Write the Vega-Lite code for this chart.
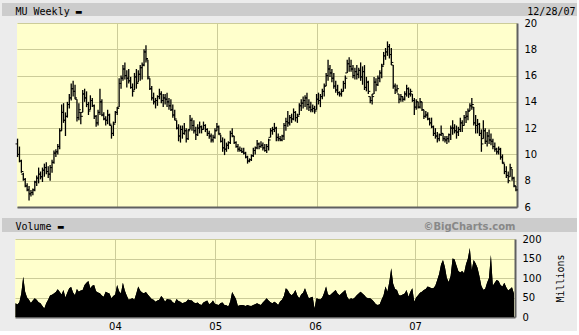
{
"$schema": "https://vega.github.io/schema/vega-lite/v6.json",
"background": "#ECECEC",
"padding": {"left": 2, "top": 3, "right": 0, "bottom": 0},
"spacing": 0,
"config": {
 "view": {"stroke": null},
 "axis": {"labelFont": "DejaVu Sans", "labelFontSize": 10, "labelColor": "#000000", "titleFont": "DejaVu Sans Mono", "titleFontSize": 10, "titleFontWeight": "normal", "titleColor": "#000000", "gridColor": "#CCCC99", "gridOpacity": 1, "gridWidth": 1, "domainColor": "#606060", "domainWidth": 2, "ticks": false}
},
"datasets": {"px": [
{"d":"2003-01-03","o":10.8,"h":11.2,"l":9.8,"c":10.0,"v":35},
{"d":"2003-01-10","o":10.0,"h":10.6,"l":9.4,"c":9.5,"v":32},
{"d":"2003-01-17","o":9.5,"h":9.6,"l":8.6,"c":8.7,"v":38},
{"d":"2003-01-24","o":8.5,"h":8.6,"l":8.0,"c":8.1,"v":60},
{"d":"2003-01-31","o":8.1,"h":8.2,"l":7.5,"c":7.6,"v":103},
{"d":"2003-02-07","o":7.6,"h":7.8,"l":7.2,"c":7.3,"v":65},
{"d":"2003-02-14","o":7.3,"h":7.6,"l":6.5,"c":7.0,"v":50},
{"d":"2003-02-21","o":7.0,"h":7.3,"l":6.8,"c":7.1,"v":44},
{"d":"2003-02-28","o":7.1,"h":7.4,"l":6.9,"c":7.3,"v":36},
{"d":"2003-03-07","o":7.3,"h":8.0,"l":7.2,"c":7.9,"v":42},
{"d":"2003-03-14","o":7.9,"h":8.4,"l":7.6,"c":8.2,"v":48},
{"d":"2003-03-21","o":8.2,"h":9.0,"l":7.8,"c":8.5,"v":44},
{"d":"2003-03-28","o":8.5,"h":8.7,"l":8.1,"c":8.3,"v":38},
{"d":"2003-04-04","o":8.3,"h":9.0,"l":7.9,"c":8.8,"v":35},
{"d":"2003-04-11","o":8.8,"h":9.3,"l":8.3,"c":9.0,"v":28},
{"d":"2003-04-18","o":9.0,"h":9.4,"l":8.5,"c":8.7,"v":22},
{"d":"2003-04-25","o":8.7,"h":9.1,"l":8.2,"c":8.5,"v":35},
{"d":"2003-05-02","o":8.5,"h":9.2,"l":8.0,"c":9.0,"v":44},
{"d":"2003-05-09","o":9.0,"h":9.6,"l":8.6,"c":9.4,"v":55},
{"d":"2003-05-16","o":9.4,"h":10.3,"l":9.3,"c":10.1,"v":57},
{"d":"2003-05-23","o":10.1,"h":10.4,"l":9.8,"c":10.2,"v":60},
{"d":"2003-05-30","o":10.2,"h":10.8,"l":10.0,"c":10.6,"v":64},
{"d":"2003-06-06","o":10.6,"h":12.0,"l":10.4,"c":11.8,"v":71},
{"d":"2003-06-13","o":11.8,"h":13.8,"l":11.8,"c":13.2,"v":65},
{"d":"2003-06-20","o":13.2,"h":13.9,"l":12.4,"c":12.6,"v":58},
{"d":"2003-06-27","o":12.6,"h":13.2,"l":11.4,"c":12.9,"v":69},
{"d":"2003-07-04","o":12.9,"h":14.0,"l":12.8,"c":13.8,"v":50},
{"d":"2003-07-11","o":13.8,"h":14.6,"l":13.5,"c":14.3,"v":62},
{"d":"2003-07-18","o":14.3,"h":15.4,"l":14.1,"c":15.0,"v":74},
{"d":"2003-07-25","o":15.0,"h":15.6,"l":14.4,"c":14.8,"v":77},
{"d":"2003-08-01","o":14.8,"h":15.3,"l":14.2,"c":14.3,"v":63},
{"d":"2003-08-08","o":14.2,"h":14.2,"l":12.5,"c":12.8,"v":56},
{"d":"2003-08-15","o":12.8,"h":13.9,"l":12.6,"c":13.4,"v":72},
{"d":"2003-08-22","o":13.2,"h":13.2,"l":12.3,"c":12.9,"v":65},
{"d":"2003-08-29","o":13.2,"h":14.9,"l":13.2,"c":14.6,"v":68},
{"d":"2003-09-05","o":14.6,"h":15.0,"l":14.0,"c":14.3,"v":69},
{"d":"2003-09-12","o":14.3,"h":14.8,"l":13.6,"c":13.8,"v":82},
{"d":"2003-09-19","o":13.8,"h":14.0,"l":13.0,"c":13.3,"v":88},
{"d":"2003-09-26","o":13.4,"h":14.5,"l":13.4,"c":14.1,"v":92},
{"d":"2003-10-03","o":14.1,"h":14.3,"l":13.6,"c":13.7,"v":74},
{"d":"2003-10-10","o":13.7,"h":13.8,"l":12.7,"c":12.9,"v":80},
{"d":"2003-10-17","o":12.9,"h":13.0,"l":12.1,"c":12.4,"v":82},
{"d":"2003-10-24","o":12.4,"h":13.4,"l":12.2,"c":13.2,"v":66},
{"d":"2003-10-31","o":13.2,"h":15.0,"l":13.0,"c":14.0,"v":63},
{"d":"2003-11-07","o":14.0,"h":14.2,"l":12.9,"c":13.0,"v":61},
{"d":"2003-11-14","o":13.0,"h":13.2,"l":12.6,"c":12.7,"v":55},
{"d":"2003-11-21","o":12.7,"h":12.9,"l":12.2,"c":12.6,"v":52},
{"d":"2003-11-28","o":12.6,"h":13.4,"l":12.3,"c":13.0,"v":65},
{"d":"2003-12-05","o":13.0,"h":13.1,"l":12.2,"c":12.3,"v":62},
{"d":"2003-12-12","o":12.2,"h":12.2,"l":11.2,"c":11.6,"v":60},
{"d":"2003-12-19","o":11.6,"h":12.5,"l":11.4,"c":12.3,"v":48},
{"d":"2003-12-26","o":12.4,"h":13.3,"l":12.4,"c":13.2,"v":54},
{"d":"2004-01-02","o":13.2,"h":13.6,"l":13.0,"c":13.5,"v":58},
{"d":"2004-01-09","o":13.6,"h":15.8,"l":13.6,"c":15.4,"v":82},
{"d":"2004-01-16","o":15.4,"h":16.0,"l":15.0,"c":15.8,"v":66},
{"d":"2004-01-23","o":15.8,"h":16.8,"l":15.6,"c":16.5,"v":60},
{"d":"2004-01-30","o":16.5,"h":17.0,"l":15.7,"c":16.0,"v":88},
{"d":"2004-02-06","o":16.0,"h":16.4,"l":15.1,"c":15.8,"v":68},
{"d":"2004-02-13","o":15.8,"h":16.5,"l":15.4,"c":15.6,"v":55},
{"d":"2004-02-20","o":15.6,"h":15.9,"l":15.0,"c":15.1,"v":44},
{"d":"2004-02-27","o":15.1,"h":15.4,"l":14.4,"c":14.8,"v":46},
{"d":"2004-03-05","o":14.9,"h":16.2,"l":14.9,"c":15.9,"v":48},
{"d":"2004-03-12","o":15.9,"h":16.5,"l":15.0,"c":15.4,"v":44},
{"d":"2004-03-19","o":15.5,"h":16.4,"l":15.5,"c":16.1,"v":60},
{"d":"2004-03-26","o":16.1,"h":16.8,"l":15.6,"c":16.6,"v":78},
{"d":"2004-04-02","o":16.6,"h":17.0,"l":15.7,"c":16.8,"v":68},
{"d":"2004-04-09","o":16.8,"h":18.0,"l":16.7,"c":17.8,"v":63},
{"d":"2004-04-16","o":17.8,"h":18.3,"l":17.0,"c":17.3,"v":61},
{"d":"2004-04-23","o":17.2,"h":17.2,"l":15.7,"c":15.9,"v":64},
{"d":"2004-04-30","o":15.8,"h":15.8,"l":14.9,"c":15.0,"v":58},
{"d":"2004-05-07","o":15.0,"h":15.2,"l":14.1,"c":14.3,"v":52},
{"d":"2004-05-14","o":14.3,"h":14.7,"l":13.8,"c":14.0,"v":46},
{"d":"2004-05-21","o":14.0,"h":14.3,"l":13.5,"c":14.1,"v":44},
{"d":"2004-05-28","o":14.1,"h":14.5,"l":13.7,"c":14.4,"v":39},
{"d":"2004-06-04","o":14.4,"h":15.0,"l":14.2,"c":14.6,"v":42},
{"d":"2004-06-11","o":14.6,"h":14.8,"l":13.9,"c":14.1,"v":44},
{"d":"2004-06-18","o":14.1,"h":14.6,"l":13.6,"c":14.3,"v":54},
{"d":"2004-06-25","o":14.3,"h":14.6,"l":13.8,"c":14.2,"v":48},
{"d":"2004-07-02","o":14.2,"h":14.7,"l":13.6,"c":14.0,"v":39},
{"d":"2004-07-09","o":14.0,"h":14.3,"l":13.4,"c":13.7,"v":46},
{"d":"2004-07-16","o":13.7,"h":14.2,"l":13.3,"c":13.4,"v":45},
{"d":"2004-07-23","o":13.4,"h":13.8,"l":12.8,"c":13.0,"v":44},
{"d":"2004-07-30","o":13.0,"h":13.4,"l":12.6,"c":12.7,"v":38},
{"d":"2004-08-06","o":12.6,"h":12.6,"l":11.9,"c":12.0,"v":35},
{"d":"2004-08-13","o":12.0,"h":12.3,"l":11.0,"c":11.4,"v":46},
{"d":"2004-08-20","o":11.4,"h":12.2,"l":10.9,"c":11.9,"v":41},
{"d":"2004-08-27","o":11.9,"h":12.2,"l":11.2,"c":11.6,"v":39},
{"d":"2004-09-03","o":11.6,"h":12.4,"l":11.5,"c":11.8,"v":35},
{"d":"2004-09-10","o":11.8,"h":12.0,"l":10.9,"c":11.2,"v":37},
{"d":"2004-09-17","o":11.2,"h":11.9,"l":11.1,"c":11.8,"v":39},
{"d":"2004-09-24","o":11.9,"h":13.0,"l":11.9,"c":12.6,"v":45},
{"d":"2004-10-01","o":12.6,"h":12.8,"l":11.8,"c":12.2,"v":43},
{"d":"2004-10-08","o":12.2,"h":12.6,"l":11.6,"c":11.8,"v":42},
{"d":"2004-10-15","o":11.8,"h":12.1,"l":11.1,"c":11.5,"v":37},
{"d":"2004-10-22","o":11.5,"h":12.3,"l":11.4,"c":12.0,"v":35},
{"d":"2004-10-29","o":12.0,"h":12.5,"l":11.6,"c":12.1,"v":37},
{"d":"2004-11-05","o":12.1,"h":12.2,"l":11.6,"c":11.9,"v":33},
{"d":"2004-11-12","o":11.9,"h":12.5,"l":11.9,"c":12.2,"v":31},
{"d":"2004-11-19","o":12.2,"h":12.3,"l":11.7,"c":11.9,"v":37},
{"d":"2004-11-26","o":11.9,"h":12.0,"l":11.4,"c":11.6,"v":40},
{"d":"2004-12-03","o":11.6,"h":11.8,"l":11.2,"c":11.4,"v":42},
{"d":"2004-12-10","o":11.4,"h":11.6,"l":10.9,"c":11.1,"v":33},
{"d":"2004-12-17","o":11.1,"h":11.5,"l":10.9,"c":11.3,"v":36},
{"d":"2004-12-24","o":11.3,"h":12.0,"l":11.2,"c":11.8,"v":42},
{"d":"2004-12-31","o":11.8,"h":12.4,"l":11.8,"c":12.1,"v":34},
{"d":"2005-01-07","o":12.1,"h":12.2,"l":11.5,"c":11.6,"v":32},
{"d":"2005-01-14","o":11.5,"h":11.5,"l":10.9,"c":11.0,"v":31},
{"d":"2005-01-21","o":11.0,"h":11.3,"l":10.2,"c":10.5,"v":36},
{"d":"2005-01-28","o":10.5,"h":11.2,"l":9.95,"c":10.4,"v":37},
{"d":"2005-02-04","o":10.4,"h":10.9,"l":10.2,"c":10.7,"v":31},
{"d":"2005-02-11","o":10.7,"h":11.0,"l":10.4,"c":10.9,"v":30},
{"d":"2005-02-18","o":10.9,"h":11.8,"l":10.8,"c":11.6,"v":27},
{"d":"2005-02-25","o":11.6,"h":12.0,"l":11.3,"c":11.4,"v":40},
{"d":"2005-03-04","o":11.4,"h":11.4,"l":10.8,"c":10.9,"v":64},
{"d":"2005-03-11","o":10.9,"h":11.0,"l":10.5,"c":10.6,"v":55},
{"d":"2005-03-18","o":10.6,"h":10.8,"l":10.2,"c":10.4,"v":46},
{"d":"2005-03-25","o":10.4,"h":10.6,"l":10.2,"c":10.3,"v":28},
{"d":"2005-04-01","o":10.3,"h":10.5,"l":10.1,"c":10.2,"v":30},
{"d":"2005-04-08","o":10.2,"h":10.5,"l":10.0,"c":10.1,"v":31},
{"d":"2005-04-15","o":10.1,"h":10.2,"l":9.7,"c":9.8,"v":30},
{"d":"2005-04-22","o":9.8,"h":9.9,"l":9.3,"c":9.5,"v":28},
{"d":"2005-04-29","o":9.5,"h":9.7,"l":9.4,"c":9.6,"v":31},
{"d":"2005-05-06","o":9.6,"h":10.0,"l":9.5,"c":9.9,"v":29},
{"d":"2005-05-13","o":9.9,"h":10.5,"l":9.8,"c":10.3,"v":28},
{"d":"2005-05-20","o":10.3,"h":10.6,"l":10.0,"c":10.5,"v":31},
{"d":"2005-05-27","o":10.5,"h":11.1,"l":10.4,"c":10.8,"v":33},
{"d":"2005-06-03","o":10.8,"h":10.9,"l":10.4,"c":10.6,"v":35},
{"d":"2005-06-10","o":10.6,"h":11.0,"l":10.5,"c":10.7,"v":33},
{"d":"2005-06-17","o":10.7,"h":10.9,"l":10.3,"c":10.5,"v":31},
{"d":"2005-06-24","o":10.5,"h":10.8,"l":10.2,"c":10.3,"v":37},
{"d":"2005-07-01","o":10.3,"h":10.8,"l":10.1,"c":10.6,"v":42},
{"d":"2005-07-08","o":10.6,"h":11.2,"l":10.3,"c":11.1,"v":48},
{"d":"2005-07-15","o":11.3,"h":12.0,"l":11.3,"c":11.8,"v":42},
{"d":"2005-07-22","o":11.8,"h":12.1,"l":11.5,"c":11.9,"v":38},
{"d":"2005-07-29","o":11.9,"h":12.4,"l":11.7,"c":12.0,"v":35},
{"d":"2005-08-05","o":12.0,"h":12.1,"l":11.0,"c":11.3,"v":39},
{"d":"2005-08-12","o":11.3,"h":11.6,"l":11.0,"c":11.2,"v":36},
{"d":"2005-08-19","o":11.2,"h":11.4,"l":11.0,"c":11.1,"v":31},
{"d":"2005-08-26","o":11.1,"h":11.5,"l":11.0,"c":11.4,"v":40},
{"d":"2005-09-02","o":11.4,"h":12.4,"l":11.1,"c":12.2,"v":44},
{"d":"2005-09-09","o":12.2,"h":12.8,"l":11.8,"c":12.5,"v":54},
{"d":"2005-09-16","o":12.5,"h":13.3,"l":12.1,"c":12.4,"v":74},
{"d":"2005-09-23","o":12.4,"h":13.0,"l":12.2,"c":12.8,"v":69},
{"d":"2005-09-30","o":12.8,"h":13.1,"l":12.4,"c":12.7,"v":60},
{"d":"2005-10-07","o":12.7,"h":13.5,"l":12.6,"c":13.2,"v":56},
{"d":"2005-10-14","o":13.2,"h":13.3,"l":12.5,"c":12.8,"v":60},
{"d":"2005-10-21","o":12.8,"h":13.1,"l":12.4,"c":12.9,"v":69},
{"d":"2005-10-28","o":13.0,"h":13.9,"l":13.0,"c":13.7,"v":55},
{"d":"2005-11-04","o":13.7,"h":14.2,"l":13.3,"c":13.9,"v":48},
{"d":"2005-11-11","o":13.9,"h":14.4,"l":13.5,"c":14.1,"v":58},
{"d":"2005-11-18","o":14.1,"h":14.5,"l":13.6,"c":14.3,"v":62},
{"d":"2005-11-25","o":14.3,"h":14.7,"l":13.4,"c":13.8,"v":74},
{"d":"2005-12-02","o":13.8,"h":14.2,"l":13.3,"c":13.6,"v":60},
{"d":"2005-12-09","o":13.6,"h":14.0,"l":13.2,"c":13.4,"v":48},
{"d":"2005-12-16","o":13.4,"h":13.8,"l":13.2,"c":13.5,"v":50},
{"d":"2005-12-23","o":13.5,"h":13.7,"l":13.1,"c":13.3,"v":52},
{"d":"2005-12-30","o":13.4,"h":14.6,"l":13.4,"c":14.2,"v":22},
{"d":"2006-01-06","o":14.2,"h":14.7,"l":13.8,"c":14.1,"v":48},
{"d":"2006-01-13","o":14.1,"h":14.6,"l":13.6,"c":14.4,"v":46},
{"d":"2006-01-20","o":14.4,"h":15.0,"l":14.2,"c":14.8,"v":45},
{"d":"2006-01-27","o":14.8,"h":15.4,"l":14.4,"c":15.2,"v":50},
{"d":"2006-02-03","o":15.2,"h":16.2,"l":15.2,"c":16.0,"v":62},
{"d":"2006-02-10","o":16.0,"h":17.2,"l":15.6,"c":16.5,"v":78},
{"d":"2006-02-17","o":16.5,"h":16.8,"l":15.9,"c":16.2,"v":58},
{"d":"2006-02-24","o":16.2,"h":16.5,"l":15.5,"c":15.8,"v":56},
{"d":"2006-03-03","o":15.8,"h":16.2,"l":15.0,"c":15.2,"v":60},
{"d":"2006-03-10","o":15.2,"h":15.6,"l":14.7,"c":14.9,"v":65},
{"d":"2006-03-17","o":14.9,"h":15.3,"l":14.5,"c":14.7,"v":69},
{"d":"2006-03-24","o":14.7,"h":14.8,"l":14.4,"c":14.6,"v":60},
{"d":"2006-03-31","o":14.6,"h":15.0,"l":14.4,"c":14.8,"v":56},
{"d":"2006-04-07","o":14.8,"h":15.6,"l":14.8,"c":15.4,"v":60},
{"d":"2006-04-14","o":15.4,"h":16.0,"l":15.0,"c":15.8,"v":65},
{"d":"2006-04-21","o":16.2,"h":17.2,"l":16.2,"c":16.9,"v":69},
{"d":"2006-04-28","o":16.9,"h":17.4,"l":16.3,"c":16.7,"v":52},
{"d":"2006-05-05","o":16.7,"h":17.2,"l":16.3,"c":16.5,"v":44},
{"d":"2006-05-12","o":16.5,"h":16.8,"l":15.8,"c":16.0,"v":48},
{"d":"2006-05-19","o":16.0,"h":16.6,"l":15.7,"c":16.3,"v":46},
{"d":"2006-05-26","o":16.3,"h":16.8,"l":15.7,"c":16.1,"v":50},
{"d":"2006-06-02","o":16.1,"h":16.6,"l":15.8,"c":16.4,"v":56},
{"d":"2006-06-09","o":16.4,"h":17.0,"l":15.6,"c":15.9,"v":60},
{"d":"2006-06-16","o":15.9,"h":16.7,"l":15.3,"c":16.3,"v":65},
{"d":"2006-06-23","o":16.3,"h":16.8,"l":14.9,"c":15.1,"v":60},
{"d":"2006-06-30","o":15.1,"h":15.9,"l":14.8,"c":15.5,"v":56},
{"d":"2006-07-07","o":15.5,"h":15.6,"l":14.6,"c":14.8,"v":50},
{"d":"2006-07-14","o":14.4,"h":14.4,"l":13.9,"c":14.1,"v":48},
{"d":"2006-07-21","o":14.1,"h":14.6,"l":13.8,"c":14.4,"v":48},
{"d":"2006-07-28","o":14.6,"h":15.9,"l":14.6,"c":15.5,"v":44},
{"d":"2006-08-04","o":15.5,"h":15.8,"l":14.8,"c":15.3,"v":39},
{"d":"2006-08-11","o":15.3,"h":16.0,"l":15.2,"c":15.8,"v":33},
{"d":"2006-08-18","o":15.8,"h":16.4,"l":15.5,"c":16.2,"v":31},
{"d":"2006-08-25","o":16.2,"h":16.9,"l":15.8,"c":16.7,"v":33},
{"d":"2006-09-01","o":16.8,"h":17.8,"l":16.8,"c":17.5,"v":45},
{"d":"2006-09-08","o":17.5,"h":18.1,"l":17.2,"c":17.8,"v":56},
{"d":"2006-09-15","o":17.8,"h":18.6,"l":17.5,"c":18.2,"v":78},
{"d":"2006-09-22","o":18.2,"h":18.4,"l":17.3,"c":17.6,"v":65},
{"d":"2006-09-29","o":17.6,"h":18.1,"l":16.8,"c":17.0,"v":90},
{"d":"2006-10-06","o":16.8,"h":16.8,"l":15.0,"c":15.2,"v":125},
{"d":"2006-10-13","o":15.2,"h":15.4,"l":14.6,"c":14.9,"v":85},
{"d":"2006-10-20","o":14.9,"h":15.3,"l":14.7,"c":15.0,"v":72},
{"d":"2006-10-27","o":14.6,"h":14.6,"l":13.9,"c":14.2,"v":69},
{"d":"2006-11-03","o":14.2,"h":14.6,"l":14.0,"c":14.4,"v":56},
{"d":"2006-11-10","o":14.4,"h":14.4,"l":14.0,"c":14.2,"v":55},
{"d":"2006-11-17","o":14.2,"h":14.8,"l":14.1,"c":14.6,"v":58},
{"d":"2006-11-24","o":14.6,"h":15.3,"l":14.4,"c":15.0,"v":60},
{"d":"2006-12-01","o":15.0,"h":15.1,"l":14.3,"c":14.6,"v":69},
{"d":"2006-12-08","o":14.6,"h":15.0,"l":14.4,"c":14.8,"v":52},
{"d":"2006-12-15","o":14.6,"h":14.6,"l":14.0,"c":14.1,"v":65},
{"d":"2006-12-22","o":14.1,"h":14.3,"l":13.0,"c":13.6,"v":74},
{"d":"2006-12-29","o":13.6,"h":14.2,"l":13.4,"c":14.0,"v":39},
{"d":"2007-01-05","o":14.0,"h":14.0,"l":13.5,"c":13.6,"v":50},
{"d":"2007-01-12","o":13.6,"h":14.3,"l":13.5,"c":14.0,"v":56},
{"d":"2007-01-19","o":14.0,"h":14.0,"l":13.3,"c":13.4,"v":62},
{"d":"2007-01-26","o":13.4,"h":13.4,"l":12.7,"c":12.9,"v":65},
{"d":"2007-02-02","o":12.9,"h":13.3,"l":12.8,"c":13.0,"v":69},
{"d":"2007-02-09","o":13.0,"h":13.2,"l":12.6,"c":12.7,"v":72},
{"d":"2007-02-16","o":12.7,"h":12.8,"l":12.2,"c":12.4,"v":78},
{"d":"2007-02-23","o":12.4,"h":12.8,"l":12.0,"c":12.1,"v":76},
{"d":"2007-03-02","o":12.1,"h":12.2,"l":11.4,"c":11.6,"v":74},
{"d":"2007-03-09","o":11.6,"h":12.0,"l":11.2,"c":11.4,"v":74},
{"d":"2007-03-16","o":11.4,"h":11.7,"l":10.9,"c":11.2,"v":80},
{"d":"2007-03-23","o":11.2,"h":11.6,"l":11.0,"c":11.5,"v":95},
{"d":"2007-03-30","o":11.5,"h":12.2,"l":11.4,"c":11.6,"v":110},
{"d":"2007-04-06","o":11.6,"h":11.6,"l":11.0,"c":11.2,"v":135},
{"d":"2007-04-13","o":11.2,"h":11.4,"l":10.9,"c":11.1,"v":146},
{"d":"2007-04-20","o":11.1,"h":11.4,"l":10.8,"c":11.2,"v":128},
{"d":"2007-04-27","o":11.2,"h":11.6,"l":10.9,"c":11.5,"v":100},
{"d":"2007-05-04","o":11.5,"h":12.2,"l":11.1,"c":12.0,"v":90},
{"d":"2007-05-11","o":12.0,"h":12.6,"l":11.5,"c":12.0,"v":105},
{"d":"2007-05-18","o":12.0,"h":12.3,"l":11.6,"c":11.8,"v":150},
{"d":"2007-05-25","o":11.8,"h":12.2,"l":11.2,"c":11.7,"v":148},
{"d":"2007-06-01","o":11.7,"h":12.1,"l":11.4,"c":11.9,"v":133},
{"d":"2007-06-08","o":11.9,"h":12.8,"l":11.7,"c":12.4,"v":118},
{"d":"2007-06-15","o":12.4,"h":12.6,"l":11.7,"c":12.2,"v":114},
{"d":"2007-06-22","o":12.2,"h":13.0,"l":12.2,"c":12.8,"v":118},
{"d":"2007-06-29","o":12.8,"h":13.3,"l":12.4,"c":12.9,"v":112},
{"d":"2007-07-06","o":12.9,"h":13.5,"l":12.6,"c":13.3,"v":135},
{"d":"2007-07-13","o":13.3,"h":13.9,"l":13.3,"c":13.7,"v":150},
{"d":"2007-07-20","o":13.7,"h":14.3,"l":13.4,"c":13.8,"v":177},
{"d":"2007-07-27","o":13.6,"h":13.6,"l":12.2,"c":12.4,"v":120},
{"d":"2007-08-03","o":12.4,"h":13.0,"l":11.6,"c":12.2,"v":146},
{"d":"2007-08-10","o":12.2,"h":12.7,"l":11.6,"c":12.3,"v":138},
{"d":"2007-08-17","o":12.3,"h":12.4,"l":11.4,"c":11.6,"v":126},
{"d":"2007-08-24","o":11.6,"h":11.9,"l":10.2,"c":10.8,"v":105},
{"d":"2007-08-31","o":11.2,"h":12.6,"l":11.2,"c":11.8,"v":80},
{"d":"2007-09-07","o":11.8,"h":12.0,"l":10.8,"c":11.0,"v":70},
{"d":"2007-09-14","o":11.0,"h":11.7,"l":10.6,"c":11.4,"v":72},
{"d":"2007-09-21","o":11.4,"h":11.9,"l":10.8,"c":11.1,"v":88},
{"d":"2007-09-28","o":11.1,"h":11.6,"l":10.7,"c":11.0,"v":100},
{"d":"2007-10-05","o":11.0,"h":11.2,"l":10.4,"c":10.6,"v":159},
{"d":"2007-10-12","o":10.6,"h":10.9,"l":10.2,"c":10.4,"v":80},
{"d":"2007-10-19","o":10.4,"h":10.5,"l":10.0,"c":10.2,"v":88},
{"d":"2007-10-26","o":10.2,"h":10.6,"l":10.0,"c":10.4,"v":95},
{"d":"2007-11-02","o":10.4,"h":10.5,"l":9.6,"c":9.8,"v":92},
{"d":"2007-11-09","o":9.8,"h":10.0,"l":9.3,"c":9.4,"v":82},
{"d":"2007-11-16","o":9.3,"h":9.3,"l":8.5,"c":8.7,"v":78},
{"d":"2007-11-23","o":8.7,"h":9.1,"l":8.2,"c":8.4,"v":88},
{"d":"2007-11-30","o":8.4,"h":8.7,"l":7.8,"c":8.0,"v":76},
{"d":"2007-12-07","o":8.3,"h":9.3,"l":8.3,"c":9.0,"v":68},
{"d":"2007-12-14","o":8.9,"h":8.9,"l":8.0,"c":8.2,"v":72},
{"d":"2007-12-21","o":8.2,"h":8.3,"l":7.5,"c":7.6,"v":76},
{"d":"2007-12-28","o":7.6,"h":7.6,"l":7.2,"c":7.3,"v":60}
]},
"vconcat": [
 {
  "width": 575, "height": 13,
  "data": {"values": [{}]},
  "view": {"fill": "#CCCCCC", "stroke": null},
  "mark": {"type": "rect", "opacity": 0},
  "encoding": {
   "x": {"datum": 0, "type": "quantitative", "axis": {"orient": "bottom", "labels": false, "domain": false, "grid": false, "minExtent": 0, "maxExtent": 0, "title": "12/28/07", "titleAngle": 0, "titleAlign": "right", "titleBaseline": "alphabetic", "titleX": 573, "titleY": -2}},
   "y": {"datum": 0, "type": "quantitative", "axis": {"orient": "left", "labels": false, "domain": false, "grid": false, "minExtent": 0, "maxExtent": 0, "title": "MU Weekly ▬", "titleAngle": 0, "titleAlign": "left", "titleBaseline": "alphabetic", "titleX": 13, "titleY": 11}}
  }
 },
 {
  "spacing": 0,
  "hconcat": [
   {"width": 13, "height": 184, "data": {"values": []}, "mark": "point"},
   {
    "width": 500, "height": 184,
    "data": {"name": "px"},
    "view": {"fill": "#FFFFCC", "stroke": null},
    "layer": [
     {"mark": {"type": "rule", "color": "#000000", "strokeWidth": 1.3},
      "encoding": {
       "x": {"field": "d", "type": "temporal",
         "scale": {"type": "utc", "domain": [{"year": 2003, "month": 1, "date": 1, "utc": true}, {"year": 2008, "month": 1, "date": 1, "utc": true}]},
         "axis": {"orient": "bottom", "title": null, "labels": false, "grid": true, "domain": true, "minExtent": 11, "values": [{"year": 2004, "month": 1, "date": 1, "utc": true}, {"year": 2005, "month": 1, "date": 1, "utc": true}, {"year": 2006, "month": 1, "date": 1, "utc": true}, {"year": 2007, "month": 1, "date": 1, "utc": true}]}},
       "y": {"field": "l", "type": "quantitative",
         "scale": {"domain": [6, 20], "nice": false, "zero": false},
         "axis": {"orient": "right", "title": null, "values": [6, 8, 10, 12, 14, 16, 18, 20], "grid": true, "domain": true, "labelPadding": 7}},
       "y2": {"field": "h"}
      }},
     {"mark": {"type": "tick", "orient": "horizontal", "size": 2, "thickness": 1, "xOffset": -1, "color": "#000000", "opacity": 1},
      "encoding": {
       "x": {"field": "d", "type": "temporal", "axis": {"orient": "top", "title": null, "labels": false, "grid": false, "domain": false, "minExtent": 7}},
       "y": {"field": "o", "type": "quantitative", "axis": null}
      }},
     {"mark": {"type": "tick", "orient": "horizontal", "size": 2, "thickness": 1, "xOffset": 1, "color": "#000000", "opacity": 1},
      "encoding": {
       "x": {"field": "d", "type": "temporal", "axis": null},
       "y": {"field": "c", "type": "quantitative", "axis": null}
      }}
    ],
    "resolve": {"axis": {"x": "independent", "y": "independent"}}
   }
  ]
 },
 {
  "width": 575, "height": 14,
  "data": {"values": [{}]},
  "view": {"fill": "#CCCCCC", "stroke": null},
  "mark": {"type": "rect", "opacity": 0},
  "encoding": {
   "x": {"datum": 0, "type": "quantitative", "axis": {"orient": "bottom", "labels": false, "domain": false, "grid": false, "minExtent": 0, "maxExtent": 0, "title": "©BigCharts.com", "titleFont": "DejaVu Sans", "titleFontWeight": "bold", "titleColor": "#888888", "titleAngle": 0, "titleAlign": "right", "titleBaseline": "alphabetic", "titleX": 513, "titleY": -3}},
   "y": {"datum": 0, "type": "quantitative", "axis": {"orient": "left", "labels": false, "domain": false, "grid": false, "minExtent": 0, "maxExtent": 0, "title": "Volume ▬", "titleAngle": 0, "titleAlign": "left", "titleBaseline": "alphabetic", "titleX": 13, "titleY": 11}}
  }
 },
 {
  "spacing": 0,
  "hconcat": [
   {"width": 13, "height": 78, "data": {"values": []}, "mark": "point"},
   {
    "width": 500, "height": 78,
    "data": {"name": "px"},
    "view": {"fill": "#FFFFCC", "stroke": null},
    "layer": [
     {"mark": {"type": "area", "color": "#000000", "opacity": 1},
      "encoding": {
       "x": {"field": "d", "type": "temporal",
         "scale": {"type": "utc", "domain": [{"year": 2003, "month": 1, "date": 1, "utc": true}, {"year": 2008, "month": 1, "date": 1, "utc": true}]},
         "axis": {"orient": "bottom", "title": null, "labelExpr": "utcFormat(datum.value, '%y')", "labelPadding": 4, "grid": true, "domain": true, "values": [{"year": 2004, "month": 1, "date": 1, "utc": true}, {"year": 2005, "month": 1, "date": 1, "utc": true}, {"year": 2006, "month": 1, "date": 1, "utc": true}, {"year": 2007, "month": 1, "date": 1, "utc": true}]}},
       "y": {"field": "v", "type": "quantitative",
         "scale": {"domain": [0, 200], "nice": false},
         "axis": {"orient": "right", "title": "Millions", "titleAngle": -90, "titlePadding": 24, "values": [0, 50, 100, 150, 200], "grid": true, "domain": true, "labelPadding": 7}}
      }},
     {"mark": {"type": "area", "color": "#000000", "opacity": 1},
      "encoding": {
       "x": {"field": "d", "type": "temporal", "axis": {"orient": "top", "title": null, "labels": false, "grid": false, "domain": false, "minExtent": 7}},
       "y": {"field": "v", "type": "quantitative", "axis": null}
      }}
    ],
    "resolve": {"axis": {"x": "independent", "y": "independent"}}
   }
  ]
 }
]
}
